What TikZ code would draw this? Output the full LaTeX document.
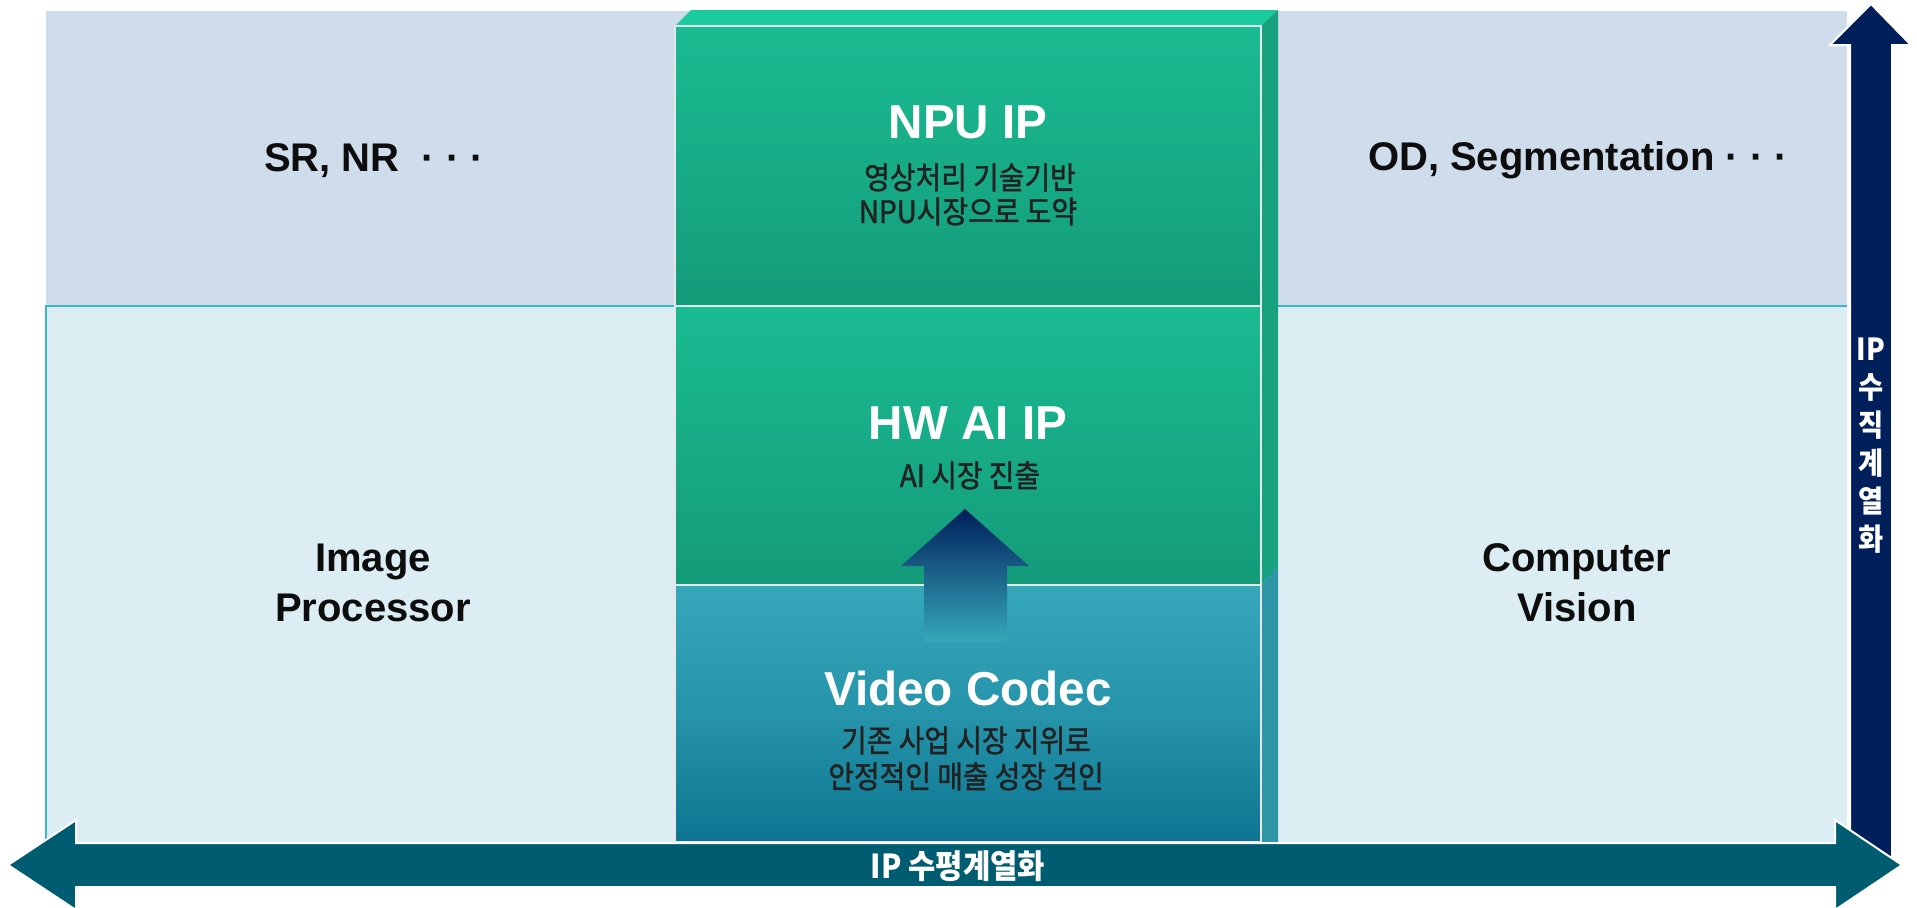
\documentclass[tikz,border=0pt]{standalone}
\usepackage{fontspec}
\setmainfont{Liberation Sans}
\newfontfamily\kr[FakeStretch=0.9]{Noto Sans CJK KR}
\newfontfamily\krm[FakeStretch=0.9,FakeBold=1.3]{Noto Sans CJK KR}
\definecolor{bandtop}{HTML}{CFDCEB}
\definecolor{bandlow}{HTML}{DCEEF4}
\definecolor{bandline}{HTML}{3BB5CB}
\definecolor{greenA}{HTML}{1ABB92}
\definecolor{greenB}{HTML}{149B7A}
\definecolor{greenTop}{HTML}{1ACB9E}
\definecolor{greenSide}{HTML}{17A17F}
\definecolor{tealA}{HTML}{36A8BA}
\definecolor{tealB}{HTML}{0D7592}
\definecolor{tealSide}{HTML}{2E95A6}
\definecolor{harrow}{HTML}{005C70}
\definecolor{varrow}{HTML}{001F5B}
\definecolor{headtxt}{HTML}{0D0D0D}
\definecolor{subtxt}{HTML}{222222}
\definecolor{blockline}{HTML}{E4E8E8}
\tikzset{
  bandhead/.style={font=\bfseries\fontsize{20}{24}\selectfont, text=headtxt, anchor=base, inner sep=0pt},
  colhead/.style={font=\bfseries\fontsize{23.8}{27}\selectfont, text=white, anchor=base, inner sep=0pt},
  colsub/.style={font={\krm\fontsize{15.5}{18}\selectfont}, text=subtxt, anchor=base, inner sep=0pt},
  axistext/.style={font={\kr\bfseries\fontsize{16.5}{19}\selectfont}, text=white, inner sep=0pt},
  blockedge/.style={draw=blockline, line width=0.8pt},
  bigarrow/.style={draw=white, line width=1pt, line join=miter}
}
\begin{document}
\begin{tikzpicture}[x=0.5pt,y=-0.5pt]
\useasboundingbox (0,0) rectangle (1917,907);
\fill[white] (0,0) rectangle (1917,907);
% bands
\fill[bandtop] (46,11) rectangle (1847,306);
\fill[bandlow] (46,306) rectangle (1847,842);
\draw[bandline, line width=1pt] (46,842) -- (46,306) -- (1847,306);
% vertical arrow
\path[bigarrow, fill=varrow] (1871,4) -- (1911,45) -- (1892,45) -- (1892,865) -- (1850,865) -- (1850,45) -- (1830,45) -- cycle;
% center column 3D
\fill[greenTop] (675,26) -- (691,10) -- (1278,10) -- (1261,26) -- cycle;
\fill[greenSide] (1261,26) -- (1278,10) -- (1278,567) -- (1261,585) -- cycle;
\fill[tealSide] (1261,585) -- (1278,567) -- (1278,842) -- (1261,842) -- cycle;
\shade[top color=greenA, bottom color=greenB] (675,26) rectangle (1261,306);
\shade[top color=greenA, bottom color=greenB] (675,306) rectangle (1261,585);
\shade[top color=tealA, bottom color=tealB, middle color=tealA!60!tealB] (675,585) rectangle (1261,842);
\draw[blockedge] (675,26) rectangle (1261,306);
\draw[blockedge] (675,306) rectangle (1261,585);
\draw[blockedge] (675,585) rectangle (1261,842);
% small upward arrow
\shade[top color=varrow, middle color=varrow!75!tealA, bottom color=tealA]
  (965,509) -- (1029,566) -- (1007,566) -- (1007,642) -- (924,642) -- (924,566) -- (901,566) -- cycle;
% horizontal arrow
\path[bigarrow, fill=harrow] (8,865) -- (76,820) -- (76,843) -- (1835,843) -- (1835,820) -- (1902,865) -- (1835,910) -- (1835,887) -- (76,887) -- (76,910) -- cycle;
% band texts
\node[bandhead] (srnr) at (374,171) {SR, NR~ · · ·};
\node[bandhead] (odseg) at (1578,170) {OD, Segmentation · · ·};
\node[bandhead] (img1) at (373,571) {Image};
\node[bandhead] (img2) at (373,621) {Processor};
\node[bandhead] (cv1) at (1577,571) {Computer};
\node[bandhead] (cv2) at (1577,621) {Vision};
% column texts
\node[colhead] (npu) at (968,138) {NPU IP};
\node[colsub] (npus1) at (970,189) {영상처리 기술기반};
\node[colsub] (npus2) at (968,223) {NPU시장으로 도약};
\node[colhead] (hw) at (968,439) {HW AI IP};
\node[colsub] (hws) at (970,487) {AI 시장 진출};
\node[colhead] (vc) at (968,705) {Video Codec};
\node[colsub] (vcs1) at (966,752) {기존 사업 시장 지위로};
\node[colsub] (vcs2) at (966,788) {안정적인 매출 성장 견인};
% axis texts
\node[axistext, anchor=base] (hax) at (958,878) {IP 수평계열화};
\node[axistext, align=center, font={\kr\bfseries\fontsize{15.2}{19}\selectfont}] (vax) at (1871,446) {IP\\수\\직\\계\\열\\화};
\end{tikzpicture}
\end{document}
